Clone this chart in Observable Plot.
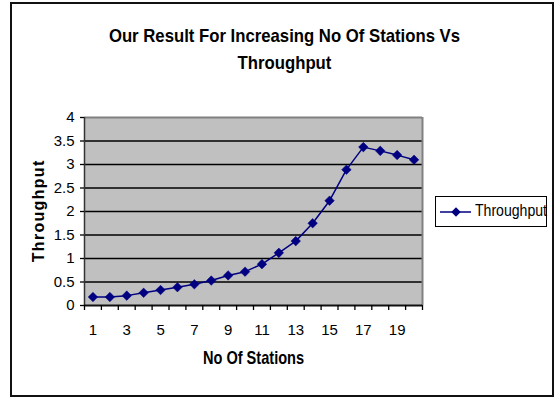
<!DOCTYPE html>
<html>
<head>
<meta charset="utf-8">
<script src="https://cdn.jsdelivr.net/npm/d3@7"></script>
<script src="https://cdn.jsdelivr.net/npm/@observablehq/plot@0.6"></script>
<style>
  html, body { margin: 0; padding: 0; background: #fff; }
  #chart { position: relative; width: 555px; height: 398px; background: #fff;
           font-family: "Liberation Sans", Arial, sans-serif; }
  #chart .border { position: absolute; left: 10px; top: 2px; width: 544px; height: 395px;
                   box-sizing: border-box; border: 2px solid #111; }
  #chart .title { position: absolute; left: 0; width: 555px; text-align: center;
                  font-weight: bold; font-size: 19px; color: #000; white-space: nowrap; line-height: 1;
                  transform: scaleX(0.88); transform-origin: 50% 50%; }
  #chart svg.plot { position: absolute; left: 0; top: 0; }
  #chart .legend { position: absolute; left: 435px; top: 196px; width: 112px; height: 31px;
                   box-sizing: border-box; border: 1px solid #000; background: #fff; }
  #chart .legend svg { position: absolute; left: 0; top: 0; }
  #chart .legend span { position: absolute; left: 39px; top: 6px; font-size: 16px; color: #000; line-height: 1;
                        transform: scaleX(0.88); transform-origin: 0 50%; white-space: nowrap; }
</style>
</head>
<body>
<div id="chart">
  <div class="border"></div>
  <div class="title" style="top:26px;left:7px">Our Result For Increasing No Of Stations Vs</div>
  <div class="title" style="top:53px;left:7px">Throughput</div>
</div>
<script>
// Number of stations (categories) and measured throughput for each
const stations = [1, 2, 3, 4, 5, 6, 7, 8, 9, 10, 11, 12, 13, 14, 15, 16, 17, 18, 19, 20];
const throughput = [0.18, 0.18, 0.21, 0.27, 0.33, 0.39, 0.45, 0.53, 0.64, 0.72,
                    0.88, 1.12, 1.37, 1.75, 2.23, 2.89, 3.37, 3.29, 3.20, 3.10];
const yTicks = [0, 0.5, 1, 1.5, 2, 2.5, 3, 3.5, 4];
const xTickLabels = [1, 3, 5, 7, 9, 11, 13, 15, 17, 19];
const seriesName = "Throughput";
const xTitle = "No Of Stations";
const yTitle = "Throughput";

const data = stations.map((s, i) => ({station: s, value: throughput[i]}));
// category boundaries, where the x tick marks sit
const boundaries = stations.map(s => s - 0.5).concat([stations[stations.length - 1] + 0.5]);
const navy = "#000080";

const plot = Plot.plot({
  width: 555,
  height: 398,
  marginLeft: 84,
  marginRight: 133,
  marginTop: 117,
  marginBottom: 93,
  style: {
    fontFamily: '"Liberation Sans", Arial, sans-serif',
    fontSize: "15px",
    color: "#000",
    background: "transparent"
  },
  x: {type: "linear", domain: [boundaries[0], boundaries[boundaries.length - 1]], label: null},
  y: {domain: [0, 4], label: null},
  marks: [
    Plot.frame({fill: "#c0c0c0", stroke: null}),
    Plot.ruleY(yTicks.filter(v => v > 0 && v < 4), {stroke: "#000", strokeWidth: 1.3}),
    Plot.ruleY([4], {stroke: "#808080", strokeWidth: 2}),
    Plot.ruleX([boundaries[boundaries.length - 1]], {stroke: "#808080", strokeWidth: 2}),
    Plot.ruleX([boundaries[0]], {stroke: "#333", strokeWidth: 1.5}),
    Plot.ruleY([0], {stroke: "#111", strokeWidth: 2}),
    Plot.axisX({ticks: boundaries, tickSize: 5, tickFormat: () => "", strokeWidth: 1.3, label: null}),
    Plot.axisX({ticks: xTickLabels, tickSize: 0, tickPadding: 19, fontSize: 15, tickFormat: d => String(d), label: null}),
    Plot.axisY({ticks: yTicks, tickSize: 4, tickPadding: 6, fontSize: 15, strokeWidth: 1.3, tickFormat: d => String(d), label: null}),
    Plot.line(data, {x: "station", y: "value", stroke: navy, strokeWidth: 1.5}),
    Plot.dot(data, {x: "station", y: "value", symbol: "diamond2", r: 4.3, fill: navy, stroke: navy, strokeWidth: 0.5}),
    Plot.text([xTitle], {frameAnchor: "bottom", dy: 58, fontSize: 18, fontWeight: "bold", fill: "#000", className: "xtitle"}),
    Plot.text([yTitle], {frameAnchor: "left", textAnchor: "middle", dx: -46, rotate: -90, fontSize: 16,
                         fontWeight: "bold", fill: "#000", className: "ytitle"})
  ]
});
plot.classList.add("plot");
// condense the x axis title horizontally around its anchor
plot.querySelectorAll("g.xtitle text").forEach(t => {
  const tr = t.getAttribute("transform") || "";
  t.setAttribute("transform", tr + " scale(0.81,1)");
});
// spread the letters of the y axis title
plot.querySelectorAll("g.ytitle text").forEach(t => {
  t.setAttribute("letter-spacing", "1.3px");
  t.setAttribute("dx", "0.65");
});
document.getElementById("chart").appendChild(plot);

// Legend box: line with a diamond marker and the series name
const legend = document.createElement("div");
legend.className = "legend";
const ls = d3.create("svg").attr("width", 40).attr("height", 29);
ls.append("line").attr("x1", 4).attr("x2", 35).attr("y1", 15).attr("y2", 15)
  .attr("stroke", navy).attr("stroke-width", 1.5);
ls.append("path").attr("d", d3.symbol(d3.symbolDiamond2, 58)())
  .attr("transform", "translate(20,15)").attr("fill", navy);
legend.appendChild(ls.node());
const label = document.createElement("span");
label.textContent = seriesName;
legend.appendChild(label);
document.getElementById("chart").appendChild(legend);
</script>
</body>
</html>
